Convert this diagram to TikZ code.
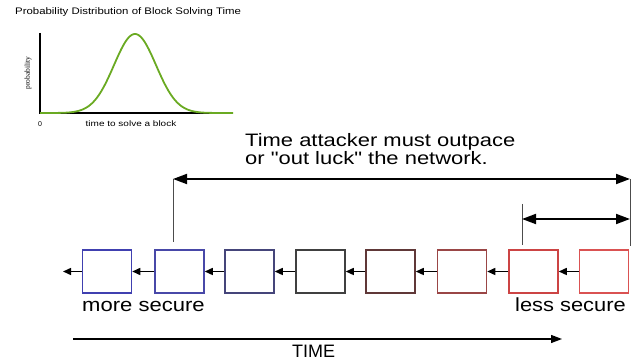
\documentclass[tikz,border=0pt]{standalone}
\usepackage{graphicx}
\usepackage{fontspec}
\setmainfont{Liberation Sans}[Ligatures=TeXOff]
\newfontfamily\serifx{Liberation Serif}
\usetikzlibrary{arrows.meta}
\definecolor{cA}{HTML}{4040B0}
\definecolor{cB}{HTML}{4848A8}
\definecolor{cC}{HTML}{45457A}
\definecolor{cD}{HTML}{404040}
\definecolor{cE}{HTML}{603838}
\definecolor{cF}{HTML}{9A4646}
\definecolor{cG}{HTML}{CC4444}
\definecolor{cH}{HTML}{DA5252}
\definecolor{curve}{HTML}{6AAA22}
\tikzset{
  blk/.style={draw=#1, line width=1.5pt, minimum width=49pt, minimum height=43pt, inner sep=0pt},
  chain/.style={line width=1.4pt, -{Triangle[length=8pt,width=7pt]}},
  span/.style={line width=1.8pt, {Triangle[length=14pt,width=10pt]}-{Triangle[length=14pt,width=10pt]}},
  tick/.style={line width=0.8pt, black!70},
  lbl/.style={inner sep=0pt, anchor=base west},
}
\begin{document}
\begin{tikzpicture}[x=1pt,y=-1pt]
\useasboundingbox (0,0) rectangle (635,363);
% chart
\node[lbl] (title) at (15,15) {\scalebox{1.2}[1]{\fontsize{9.5}{10}\selectfont Probability Distribution of Block Solving Time}};
\coordinate (ytop) at (40,33);
\coordinate (org) at (40,113);
\coordinate (xend) at (233,113);
\draw[line width=1.2pt] (ytop) -- (org) -- (xend);
\draw[curve, line width=1.8pt] plot[domain=40:233, samples=120, smooth] (\x,{113-79*exp(-0.5*((\x-135)/21)^2)});
\node[rotate=90, inner sep=0pt] (prob) at (28,73) {\serifx\fontsize{7.5}{8}\selectfont probability};
\node[inner sep=0pt] (zero) at (40,124) {\fontsize{7}{8}\selectfont 0};
\node[inner sep=0pt] (xl) at (131,124) {\scalebox{1.25}[1]{\fontsize{8}{9}\selectfont time to solve a block}};
% text
\node[lbl] (t1) at (245,147) {\scalebox{1.22}[1]{\fontsize{18}{18}\selectfont Time attacker must outpace}};
\node[lbl] (t2) at (245,165) {\scalebox{1.22}[1]{\fontsize{18}{18}\selectfont or "out luck" the network.}};
% blocks
\node[blk=cA] (b1) at (107,271.5) {};
\node[blk=cB] (b2) at (179.5,271.5) {};
\node[blk=cC] (b3) at (249.5,271.5) {};
\node[blk=cD] (b4) at (320.5,271.5) {};
\node[blk=cE] (b5) at (390.5,271.5) {};
\node[blk=cF] (b6) at (462,271.5) {};
\node[blk=cG] (b7) at (533.5,271.5) {};
\node[blk=cH] (b8) at (604,271.5) {};
\coordinate (c0) at (63,271.5);
\draw[chain] (b1.west) -- (c0);
\draw[chain] (b2.west) -- (b1.east);
\draw[chain] (b3.west) -- (b2.east);
\draw[chain] (b4.west) -- (b3.east);
\draw[chain] (b5.west) -- (b4.east);
\draw[chain] (b6.west) -- (b5.east);
\draw[chain] (b7.west) -- (b6.east);
\draw[chain] (b8.west) -- (b7.east);
% spans
\coordinate (v1t) at (173,179);
\coordinate (v1b) at (173,242);
\coordinate (v2t) at (630,179);
\coordinate (v2b) at (630,246);
\coordinate (v3t) at (522,204);
\coordinate (v3b) at (522,245);
\coordinate (s3) at (522,219);
\coordinate (s4) at (630,219);
\draw[tick] (v1t) -- (v1b);
\draw[tick] (v2t) -- (v2b);
\draw[tick] (v3t) -- (v3b);
\draw[span] (v1t) -- (v2t);
\draw[span] (s3) -- (s4);
% labels
\node[lbl] (ms) at (82,312) {\scalebox{1.16}[1]{\fontsize{19}{19}\selectfont more secure}};
\node[lbl] (ls) at (515,312) {\scalebox{1.15}[1]{\fontsize{19}{19}\selectfont less secure}};
\coordinate (ta) at (73,339);
\coordinate (tb) at (562,339);
\draw[line width=1.3pt, -{Triangle[length=11pt,width=8pt]}] (ta) -- (tb);
\node[lbl] (time) at (292,358) {\fontsize{18}{18}\selectfont TIME};
\end{tikzpicture}
\end{document}
